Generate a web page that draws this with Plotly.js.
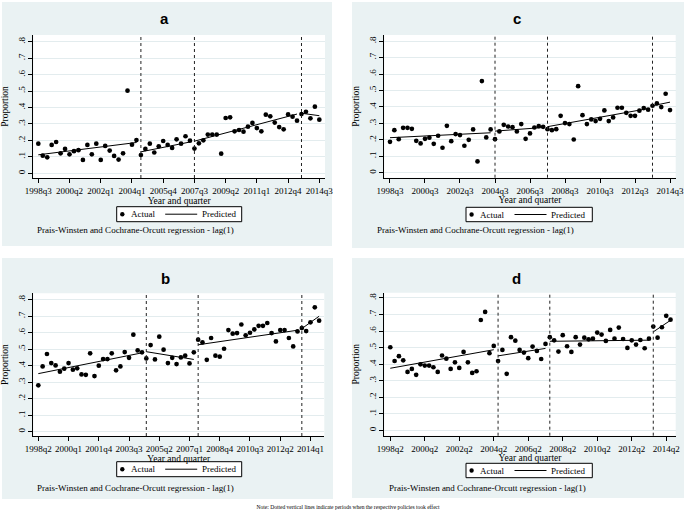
<!DOCTYPE html>
<html><head><meta charset="utf-8">
<script src="https://cdn.plot.ly/plotly-3.0.1.min.js"></script>
<style>html,body{margin:0;padding:0;background:#fff}#chart{width:685px;height:519px}</style>
</head><body><div id="chart"></div>
<script>
// ---------------- data ----------------
const ticksA = ['1998q3','2000q2','2002q1','2004q1','2005q4','2007q3','2009q2','2011q1','2012q4','2014q3'];
const ticksC = ['1998q3','2000q3','2002q3','2004q3','2006q3','2008q3','2010q3','2012q3','2014q3'];
const ticksB = ['1998q2','2000q1','2001q4','2003q3','2005q2','2007q1','2008q4','2010q3','2012q2','2014q1'];
const ticksD = ['1998q2','2000q2','2002q2','2004q2','2006q2','2008q2','2010q2','2012q2','2014q2'];
const stepA = 7, stepC = 8, stepB = 7, stepD = 8;   // quarters between labelled ticks

const actualA = [0.18,0.107,0.097,0.172,0.19,0.121,0.148,0.115,0.134,0.14,
 0.081,0.172,0.115,0.18,0.081,0.166,0.138,0.105,0.083,0.121,
 0.502,0.174,0.202,0.111,0.148,0.18,0.126,0.164,0.196,0.172,
 0.154,0.206,0.18,0.225,0.198,0.15,0.182,0.2,0.235,0.235,
 0.235,0.119,0.336,0.34,0.255,0.263,0.253,0.283,0.306,0.275,
 0.255,0.356,0.346,0.308,0.281,0.267,0.358,0.344,0.32,0.36,
 0.374,0.334,0.405,0.326];
const actualC = [0.188,0.259,0.204,0.273,0.273,0.267,0.194,0.178,0.206,0.213,
 0.176,0.225,0.152,0.285,0.192,0.235,0.229,0.164,0.2,0.263,
 0.069,0.557,0.215,0.263,0.204,0.251,0.291,0.281,0.277,0.251,
 0.296,0.206,0.239,0.275,0.283,0.279,0.265,0.259,0.265,0.346,
 0.302,0.296,0.202,0.526,0.35,0.296,0.324,0.314,0.328,0.379,
 0.314,0.336,0.395,0.395,0.364,0.346,0.346,0.377,0.393,0.383,
 0.407,0.421,0.399,0.48,0.381];
const actualB = [0.281,0.396,0.471,0.416,0.402,0.364,0.382,0.416,0.376,0.384,
 0.347,0.345,0.475,0.337,0.4,0.44,0.44,0.475,0.372,0.396,
 0.483,0.448,0.588,0.493,0.481,0.444,0.525,0.438,0.576,0.497,
 0.416,0.448,0.41,0.45,0.461,0.414,0.481,0.558,0.541,0.436,
 0.568,0.461,0.455,0.503,0.616,0.594,0.598,0.65,0.584,0.6,
 0.62,0.642,0.642,0.659,0.598,0.547,0.616,0.616,0.568,0.517,
 0.608,0.628,0.61,0.663,0.754,0.673];
const actualD = [0.502,0.419,0.448,0.423,0.353,0.371,0.335,0.399,0.391,0.391,
 0.381,0.353,0.452,0.433,0.371,0.411,0.377,0.474,0.411,0.347,
 0.357,0.667,0.716,0.466,0.51,0.419,0.486,0.341,0.563,0.542,
 0.486,0.47,0.436,0.506,0.48,0.431,0.522,0.563,0.544,0.476,
 0.575,0.508,0.474,0.563,0.518,0.56,0.55,0.554,0.591,0.579,
 0.54,0.607,0.554,0.621,0.552,0.498,0.544,0.518,0.546,0.496,
 0.554,0.627,0.56,0.623,0.692,0.669];

// predicted segments: [first quarter index, last quarter index, value at first, value at last]
const predA = [[0,22,0.112,0.187],[23,34,0.13,0.19],[35,58,0.195,0.36],[59,63,0.365,0.35]];
const predC = [[0,23,0.213,0.243],[24,35,0.253,0.275],[36,59,0.28,0.39],[60,64,0.407,0.429]];
const predB = [[0,24,0.352,0.478],[25,36,0.485,0.438],[37,60,0.527,0.615],[61,65,0.625,0.70]];
const predD = [[0,24,0.375,0.487],[25,36,0.45,0.495],[37,60,0.538,0.545],[61,65,0.595,0.665]];

// quarter index at which each policy took effect
const policyA = [23,35,59];
const policyC = [24,36,60];
const policyB = [25,37,61];
const policyD = [25,37,61];

const yTickVals = [0,0.1,0.2,0.3,0.4,0.5,0.6,0.7,0.8];
const yTickText = ['0','.1','.2','.3','.4','.5','.6','.7','.8'];
const noteText = 'Note: Dotted vertical lines indicate periods when the respective policies took effect';

// ---------------- layout ----------------
const W = 685, H = 519;
const px = x => x / W, py = y => 1 - y / H;
const SERIF = 'Liberation Serif, Times New Roman, serif';
const BG = '#eaf2f3';

const panels = [
 {id:'', label:'a', actual:actualA, pred:predA, policy:policyA, ticks:ticksA, step:stepA,
  bg:[2,332,2,246], plot:[33.3,325,35,178], xr:[-1.12,64.27], yr:[-0.029,0.841],
  title:[164.3,18.3], leg:[116.7,241.7,206.7,221.7], foot:[35,230]},
 {id:'2', label:'c', actual:actualC, pred:predC, policy:policyC, ticks:ticksC, step:stepC,
  bg:[352,684,2,248], plot:[384.3,675.7,35,177.7], xr:[-1.3,65.3], yr:[-0.03,0.837],
  title:[516.7,18.3], leg:[466,592.3,207.3,221.7], foot:[375,230]},
 {id:'3', label:'b', actual:actualB, pred:predB, policy:policyB, ticks:ticksB, step:stepB,
  bg:[2,333,258,499], plot:[33.3,324.3,293.3,436], xr:[-1.16,66.2], yr:[-0.026,0.839],
  title:[165,278.3], leg:[116.7,241.7,461.7,476.7], foot:[35,487.7]},
 {id:'4', label:'d', actual:actualD, pred:predD, policy:policyD, ticks:ticksD, step:stepD,
  bg:[352,684,258,498], plot:[384.3,675.7,292.7,435.7], xr:[-1.39,66.2], yr:[-0.033,0.832],
  title:[516.7,278.3], leg:[466,592.3,463.3,477.7], foot:[386.7,488.3]}
];

const traces = [], shapes = [], annotations = [];
const layout = {
  width: W, height: H, margin:{l:0,r:0,t:0,b:0},
  paper_bgcolor:'#ffffff', plot_bgcolor:'rgba(0,0,0,0)',
  showlegend:false, font:{family:SERIF, size:9, color:'#000'}
};

panels.forEach(p => {
  const xa = 'x' + p.id, ya = 'y' + p.id;
  const xIdx = p.actual.map((_, i) => i);
  traces.push({type:'scatter', mode:'markers', name:'Actual', x:xIdx, y:p.actual,
    xaxis:xa, yaxis:ya, marker:{size:4.7, color:'#000'}, hoverinfo:'x+y'});
  const lx = [], ly = [];
  p.pred.forEach(s => { lx.push(s[0], s[1], null); ly.push(s[2], s[3], null); });
  traces.push({type:'scatter', mode:'lines', name:'Predicted', x:lx, y:ly,
    xaxis:xa, yaxis:ya, line:{color:'#000', width:1}, connectgaps:false});

  const tickVals = p.ticks.map((_, i) => i * p.step);
  layout['xaxis' + p.id] = {
    domain:[px(p.plot[0]), px(p.plot[1])], range:p.xr, anchor:ya,
    tickvals:tickVals, ticktext:p.ticks, ticks:'outside', ticklen:4, tickwidth:1,
    tickcolor:'#000', showline:true, linecolor:'#000', linewidth:1,
    showgrid:false, zeroline:false, tickangle:0,
    tickfont:{family:SERIF, size:9, color:'#000'},
    title:{text:'Year and quarter', font:{family:SERIF, size:9.5, color:'#000'}, standoff:0}
  };
  layout['yaxis' + p.id] = {
    domain:[py(p.plot[3]), py(p.plot[2])], range:p.yr, anchor:xa,
    tickvals:yTickVals, ticktext:yTickText, tickangle:-90, ticks:'outside', ticklen:4,
    tickwidth:1, tickcolor:'#000', showline:true, linecolor:'#000', linewidth:1,
    showgrid:true, gridcolor:'#e3ecee', gridwidth:1, zeroline:false,
    tickfont:{family:SERIF, size:9, color:'#000'},
    title:{text:'Proportion', font:{family:SERIF, size:9.5, color:'#000'}, standoff:6}
  };

  // panel background and white plot region (both paper-referenced, drawn in order)
  shapes.push({type:'rect', xref:'paper', yref:'paper', layer:'below',
    x0:px(p.bg[0]), x1:px(p.bg[1]), y0:py(p.bg[3]), y1:py(p.bg[2]),
    fillcolor:BG, line:{width:0}});
  shapes.push({type:'rect', xref:'paper', yref:'paper', layer:'below',
    x0:px(p.plot[0]), x1:px(p.plot[1]), y0:py(p.plot[3]), y1:py(p.plot[2]),
    fillcolor:'#ffffff', line:{width:0}});

  // policy lines
  p.policy.forEach(q => shapes.push({type:'line', xref:xa, yref:'paper', layer:'above',
    x0:q, x1:q, y0:py(p.plot[3]), y1:py(p.plot[2]), line:{color:'#222', width:1, dash:'dot'}}));

  // legend box
  const L = p.leg, midY = (L[2] + L[3]) / 2;
  shapes.push({type:'rect', xref:'paper', yref:'paper', layer:'above',
    x0:px(L[0]), x1:px(L[1]), y0:py(L[3]), y1:py(L[2]),
    fillcolor:'#ffffff', line:{color:'#000', width:1}});
  const mx = L[0] + 5.6, r = 2.2;
  shapes.push({type:'circle', xref:'paper', yref:'paper', layer:'above',
    x0:px(mx - r), x1:px(mx + r), y0:py(midY + r), y1:py(midY - r),
    fillcolor:'#000', line:{color:'#000', width:0}});
  shapes.push({type:'line', xref:'paper', yref:'paper', layer:'above',
    x0:px(L[0] + 48.5), x1:px(L[0] + 80.5), y0:py(midY), y1:py(midY),
    line:{color:'#000', width:1}});
  annotations.push({xref:'paper', yref:'paper', x:px(L[0] + 11.8), y:py(midY),
    text:'Actual', showarrow:false, xanchor:'left', yanchor:'middle',
    font:{family:SERIF, size:9, color:'#000'}});
  annotations.push({xref:'paper', yref:'paper', x:px(L[0] + 83.3), y:py(midY),
    text:'Predicted', showarrow:false, xanchor:'left', yanchor:'middle',
    font:{family:SERIF, size:9, color:'#000'}});

  // panel title and footer
  annotations.push({xref:'paper', yref:'paper', x:px(p.title[0]), y:py(p.title[1]),
    text:'<b>' + p.label + '</b>', showarrow:false, xanchor:'center', yanchor:'middle',
    font:{family:'Liberation Sans, Arial, sans-serif', size:15, color:'#000'}});
  annotations.push({xref:'paper', yref:'paper', x:px(p.foot[0]), y:py(p.foot[1]),
    text:'Prais-Winsten and Cochrane-Orcutt regression - lag(1)', showarrow:false,
    xanchor:'left', yanchor:'middle', font:{family:SERIF, size:9, color:'#000'}});
});

annotations.push({xref:'paper', yref:'paper', x:px(348), y:py(506.7),
  text:noteText, showarrow:false, xanchor:'center', yanchor:'middle',
  font:{family:SERIF, size:6.8, color:'#000'}});

layout.shapes = shapes;
layout.annotations = annotations;

Plotly.newPlot('chart', traces, layout, {displayModeBar:false, staticPlot:true}).then(gd => {
  // the note in the reference is set in a condensed face: squeeze it to its measured width
  gd.querySelectorAll('.annotation-text').forEach(t => {
    if (t.textContent === noteText) {
      t.setAttribute('textLength', '183');
      t.setAttribute('lengthAdjust', 'spacingAndGlyphs');
    }
  });
});
</script>
</body></html>
